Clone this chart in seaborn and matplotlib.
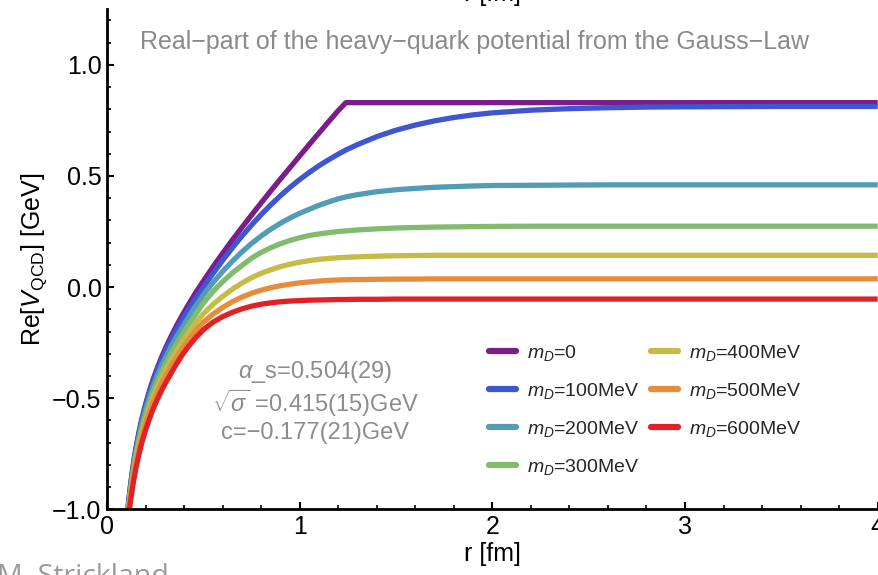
import numpy as np
import pandas as pd
import matplotlib
matplotlib.use("Agg")
import matplotlib.pyplot as plt
import seaborn as sns
from matplotlib.lines import Line2D

# ---- data ----
r_fm = [0.10, 0.11, 0.12, 0.13, 0.14, 0.15, 0.165, 0.18, 0.2, 0.22, 0.24, 0.26, 0.285,
        0.31, 0.335, 0.36, 0.39, 0.42, 0.46,
        0.5, 0.55, 0.6, 0.65, 0.7, 0.75, 0.8, 0.85, 0.9, 0.95, 1.0, 1.05, 1.1, 1.15,
        1.2, 1.24,
        1.3, 1.4, 1.5, 1.6, 1.7, 1.8, 1.9, 2.0, 2.2, 2.4, 2.6, 2.8, 3.0, 3.25, 3.5,
        3.75, 4.0]

v_md0 = [-1.076, -0.984, -0.906, -0.838, -0.779, -0.726, -0.657, -0.597, -0.528, -0.468,
         -0.414, -0.366, -0.312, -0.263, -0.218, -0.175, -0.128, -0.083, -0.026,
         0.027, 0.091, 0.152, 0.211, 0.268, 0.324, 0.379, 0.433, 0.486, 0.538, 0.59,
         0.642, 0.693, 0.744, 0.794, 0.83,
         0.83, 0.83, 0.83, 0.83, 0.83, 0.83, 0.83, 0.83, 0.83, 0.83, 0.83, 0.83, 0.83,
         0.83, 0.83, 0.83, 0.83]
v_md100 = [-1.081, -0.989, -0.911, -0.843, -0.784, -0.731, -0.662, -0.602, -0.534, -0.475,
           -0.422, -0.375, -0.323, -0.275, -0.232, -0.191, -0.146, -0.104, -0.05,
           0.0, 0.061, 0.12, 0.176, 0.229, 0.279, 0.326, 0.37, 0.411, 0.449, 0.484,
           0.516, 0.546, 0.573, 0.598, 0.617,
           0.641, 0.677, 0.706, 0.729, 0.748, 0.763, 0.775, 0.784, 0.796, 0.803, 0.807,
           0.81, 0.811, 0.812, 0.813, 0.813, 0.813]
v_md200 = [-1.088, -0.998, -0.922, -0.855, -0.797, -0.745, -0.677, -0.619, -0.552, -0.495,
           -0.444, -0.399, -0.349, -0.304, -0.263, -0.225, -0.182, -0.14, -0.085,
           -0.035, 0.02, 0.07, 0.116, 0.158, 0.196, 0.23, 0.26, 0.287, 0.311, 0.332,
           0.35, 0.368, 0.383, 0.397, 0.406,
           0.416, 0.429, 0.438, 0.444, 0.449, 0.452, 0.455, 0.457, 0.458, 0.459, 0.46,
           0.46, 0.46, 0.46, 0.46, 0.46, 0.46]
v_md300 = [-1.096, -1.006, -0.931, -0.866, -0.81, -0.76, -0.695, -0.639, -0.575, -0.52,
           -0.47, -0.426, -0.378, -0.335, -0.295, -0.257, -0.215, -0.174, -0.123,
           -0.072, -0.02, 0.024, 0.063, 0.097, 0.13, 0.156, 0.177, 0.195, 0.21, 0.222,
           0.232, 0.239, 0.245, 0.25, 0.253,
           0.257, 0.262, 0.266, 0.268, 0.27, 0.271, 0.272, 0.273, 0.274, 0.274, 0.274,
           0.274, 0.274, 0.274, 0.274, 0.274, 0.274]
v_md400 = [-1.106, -1.017, -0.943, -0.879, -0.824, -0.775, -0.712, -0.658, -0.596, -0.543,
           -0.495, -0.453, -0.406, -0.363, -0.325, -0.289, -0.248, -0.21, -0.161,
           -0.12, -0.078, -0.042, -0.01, 0.018, 0.042, 0.062, 0.078, 0.092, 0.103, 0.112,
           0.119, 0.125, 0.129, 0.132, 0.134,
           0.136, 0.139, 0.141, 0.142, 0.143, 0.143, 0.143, 0.143, 0.143, 0.143, 0.143,
           0.143, 0.143, 0.143, 0.143, 0.143, 0.143]
v_md500 = [-1.116, -1.028, -0.955, -0.892, -0.838, -0.79, -0.728, -0.675, -0.615, -0.563,
           -0.516, -0.475, -0.429, -0.388, -0.351, -0.316, -0.277, -0.241, -0.196,
           -0.158, -0.122, -0.092, -0.066, -0.045, -0.028, -0.014, -0.003, 0.006, 0.013,
           0.019, 0.023, 0.027, 0.03, 0.032, 0.033,
           0.034, 0.035, 0.036, 0.036, 0.037, 0.037, 0.037, 0.037, 0.037, 0.037, 0.037,
           0.037, 0.037, 0.037, 0.037, 0.037, 0.037]
v_md600 = [-1.136, -1.05, -0.978, -0.916, -0.863, -0.816, -0.755, -0.703, -0.644, -0.593,
           -0.547, -0.507, -0.462, -0.422, -0.384, -0.347, -0.306, -0.27, -0.228,
           -0.192, -0.158, -0.133, -0.114, -0.098, -0.086, -0.077, -0.071, -0.066,
           -0.063, -0.061, -0.059, -0.058, -0.057, -0.056, -0.056,
           -0.055, -0.055, -0.054, -0.054, -0.054, -0.054, -0.054, -0.054, -0.054,
           -0.054, -0.054, -0.054, -0.054, -0.054, -0.054, -0.054, -0.054]

series_labels = [r"$m_D$=0", r"$m_D$=100MeV", r"$m_D$=200MeV", r"$m_D$=300MeV",
                 r"$m_D$=400MeV", r"$m_D$=500MeV", r"$m_D$=600MeV"]
series_values = [v_md0, v_md100, v_md200, v_md300, v_md400, v_md500, v_md600]
series_colors = ["#7a1c8a", "#3f56d1", "#539cb5", "#82bb6e", "#c5bb46", "#e88b3a", "#e02226"]

x_ticks = [0, 1, 2, 3, 4]
y_ticks = [-1.0, -0.5, 0.0, 0.5, 1.0]
y_tick_labels = ["\u22121.0", "\u22120.5", "0.0", "0.5", "1.0"]

title_text = "Real\u2212part of the heavy\u2212quark potential from the Gauss\u2212Law"
fit_lines = [r"$\alpha$_s=0.504(29)", r"$\sqrt{\sigma}$ =0.415(15)GeV", "c=\u22120.177(21)GeV"]

# ---- build long table ----
rows = []
for lab, vals in zip(series_labels, series_values):
    for r, v in zip(r_fm, vals):
        rows.append({"r": r, "V": v, "series": lab})
df = pd.DataFrame(rows)

sns.set_theme(style="white")
plt.rcParams["font.family"] = ["Liberation Sans", "DejaVu Sans"]
plt.rcParams["mathtext.fontset"] = "custom"
plt.rcParams["mathtext.rm"] = "Liberation Sans"
plt.rcParams["mathtext.it"] = "Liberation Sans:italic"
plt.rcParams["mathtext.bf"] = "Liberation Sans:bold"

fig = plt.figure(figsize=(8.79, 5.75), dpi=100)
ax = fig.add_axes([107 / 879, 1 - 509.3 / 575, (877.7 - 107) / 879, (509.3 - 9.3) / 575])

palette = dict(zip(series_labels, series_colors))
sns.lineplot(data=df, x="r", y="V", hue="series", palette=palette, hue_order=series_labels,
             sort=False, estimator=None, linewidth=3.8, ax=ax, legend=False)
for ln in ax.get_lines():
    ln.set_solid_joinstyle("round")
    ln.set_solid_capstyle("butt")

ax.set_xlim(0, 4)
ax.set_ylim(-1.0, 1.25)
ax.set_xticks(x_ticks)
ax.set_xticklabels([str(t) for t in x_ticks])
ax.set_yticks(y_ticks)
ax.set_yticklabels(y_tick_labels)
ax.set_xticks(np.arange(0, 4.01, 0.2), minor=True)
ax.set_yticks(np.arange(-1.0, 1.251, 0.1), minor=True)
ax.tick_params(axis="both", which="both", bottom=True, left=True, top=False, right=False)
ax.tick_params(axis="both", which="major", direction="in", length=5, width=1.5,
               labelsize=18, color="black", labelcolor="black")
ax.tick_params(axis="both", which="minor", direction="in", length=3, width=1.2, color="black")
ax.tick_params(axis="x", which="major", pad=4)
ax.tick_params(axis="y", which="major", pad=4)

for side in ["top", "right"]:
    ax.spines[side].set_visible(False)
for side in ["left", "bottom"]:
    ax.spines[side].set_color("black")
    ax.spines[side].set_linewidth(2.0)
    ax.spines[side].set_zorder(5)

ax.set_xlabel("r [fm]", fontsize=18, color="black", labelpad=2)
ax.set_ylabel(r"Re[$V_{\rm QCD}$] [GeV]", fontsize=18, color="black", labelpad=2)

# title inside plot
fig.text(474.5 / 879, 1 - 42 / 575, title_text, fontsize=18, color="#8a8a8a",
         ha="center", va="center")

# fit parameter annotations
for txt, yy in zip(fit_lines, [372, 403, 433]):
    fig.text(315 / 879, 1 - yy / 575, txt, fontsize=17, color="#8c8c8c",
             ha="center", va="center")

# legend
handles = [Line2D([0], [0], color=c, lw=4.5) for c in series_colors]
ax.legend(handles, series_labels, ncol=2, loc="upper left", frameon=False,
          bbox_to_anchor=(489 / 879, 1 - 343 / 575), bbox_transform=fig.transFigure,
          fontsize=14, handlelength=1.4, handletextpad=0.55, columnspacing=0.6,
          labelspacing=0.92, borderpad=0, borderaxespad=0)

# cropped texts at the edges
fig.text(492 / 879, 1 - 6 / 575, "r [fm]", fontsize=18, color="black",
         ha="center", va="bottom")
fig.text(-3 / 879, 1 - 563 / 575, "M. Strickland", fontsize=20.5, color="#9a9a9a",
         ha="left", va="top", family=["Open Sans", "DejaVu Sans"])

fig.savefig("out.png", dpi=100)
